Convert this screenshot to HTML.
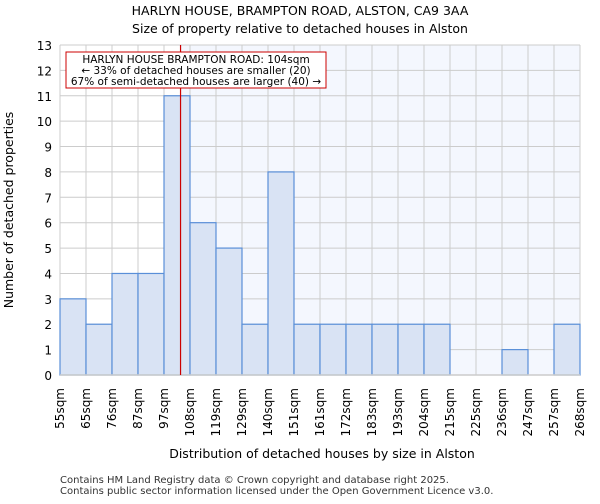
<!DOCTYPE html>
<html><head><meta charset="utf-8"><style>
body{margin:0;background:#fff;font-family:"DejaVu Sans","Liberation Sans",sans-serif;}
svg text{font-family:"DejaVu Sans","Liberation Sans",sans-serif;}
</style></head><body>
<svg id="chart" width="600" height="500" viewBox="0 0 600 500" xmlns="http://www.w3.org/2000/svg">
<text x="300" y="15" text-anchor="middle" font-size="12.5" fill="#000">HARLYN HOUSE, BRAMPTON ROAD, ALSTON, CA9 3AA</text>
<text x="300" y="33" text-anchor="middle" font-size="12.5" fill="#000">Size of property relative to detached houses in Alston</text>
<g id="plot"></g>
<text x="322" y="458" text-anchor="middle" font-size="12.5">Distribution of detached houses by size in Alston</text>
<text transform="translate(13,210) rotate(-90)" text-anchor="middle" font-size="12.5">Number of detached properties</text>
<text x="60" y="483" font-size="10" fill="#333">Contains HM Land Registry data © Crown copyright and database right 2025.</text>
<text x="60" y="494" font-size="10" fill="#333">Contains public sector information licensed under the Open Government Licence v3.0.</text>
</svg>
<script>
const binLabels=["55sqm","65sqm","76sqm","87sqm","97sqm","108sqm","119sqm","129sqm","140sqm","151sqm","161sqm","172sqm","183sqm","193sqm","204sqm","215sqm","225sqm","236sqm","247sqm","257sqm","268sqm"];
const counts=[3,2,4,4,11,6,5,2,8,2,2,2,2,2,2,0,0,1,0,2];
const yTicks=[0,1,2,3,4,5,6,7,8,9,10,11,12,13];
const propertySize=104;
const binEdges=[55,65,76,87,97,108,119,129,140,151,161,172,183,193,204,215,225,236,247,257,268];
const X0=60,X1=580,Y0=375,Y1=45,YMAX=13;
const bw=(X1-X0)/counts.length;
const xi=i=>X0+i*bw;
const y=v=>Y0-(v/YMAX)*(Y0-Y1);
function xVal(v){for(let i=0;i<binEdges.length-1;i++){if(v>=binEdges[i]&&v<=binEdges[i+1])return xi(i)+bw*(v-binEdges[i])/(binEdges[i+1]-binEdges[i]);}return X0;}
const NS="http://www.w3.org/2000/svg";
const g=document.getElementById('plot');
function mk(t,a){const e=document.createElementNS(NS,t);for(const k in a)e.setAttribute(k,a[k]);g.appendChild(e);return e;}
const lx=xVal(propertySize);
let e=mk('rect',{x:X0,y:Y1,width:lx-X0,height:Y0-Y1,fill:'#fff'});


e=mk('rect',{x:lx,y:Y1,width:X1-lx,height:Y0-Y1,fill:'#f4f7fe'});


yTicks.forEach(t=>{
 const l=mk('line',{x1:X0,x2:X1,y1:y(t),y2:y(t),stroke:'#cccccc','stroke-width':1});
 
 
 const tx=mk('text',{x:X0-8,y:y(t)+5,'text-anchor':'end','font-size':12});
 tx.textContent=t;
 
 
});
binLabels.forEach((s,i)=>{
 const l=mk('line',{x1:xi(i),x2:xi(i),y1:Y1,y2:Y0,stroke:'#cccccc','stroke-width':1});
 
 
 const tx=mk('text',{transform:`translate(${xi(i)+4},388) rotate(-90)`,'text-anchor':'end','font-size':12});
 tx.textContent=s;
 
 
});
counts.forEach((c,i)=>{
 if(c<=0)return;
 const r=mk('rect',{x:xi(i),y:y(c),width:bw,height:Y0-y(c),fill:'#d9e3f4',stroke:'#5a8fd8','stroke-width':1.2});
 
 
});
e=mk('line',{x1:X0,x2:X1,y1:Y0,y2:Y0,stroke:'#cccccc','stroke-width':1.5});


e=mk('line',{x1:lx,x2:lx,y1:Y1,y2:Y0,stroke:'#cc0000','stroke-width':1.2});


e=mk('rect',{x:66,y:52,width:260,height:36,fill:'#fff',stroke:'#cc0000','stroke-width':1});


["HARLYN HOUSE BRAMPTON ROAD: 104sqm","← 33% of detached houses are smaller (20)","67% of semi-detached houses are larger (40) →"].forEach((s,i)=>{
 const t=mk('text',{x:196,y:63+i*11,'text-anchor':'middle','font-size':10.5});
 t.textContent=s;
 
 
});
</script>
</body></html>
